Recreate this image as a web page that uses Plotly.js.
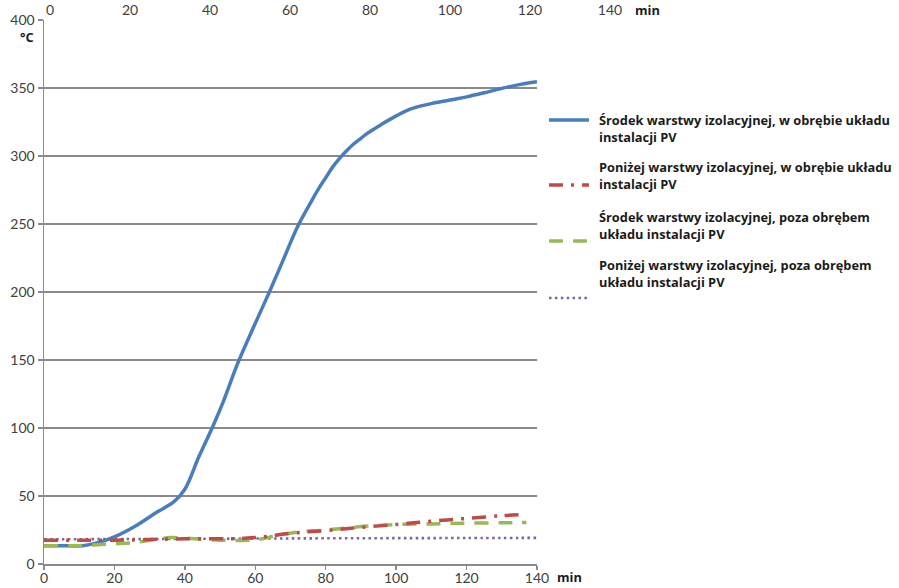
<!DOCTYPE html>
<html>
<head>
<meta charset="utf-8">
<script src="https://cdn.plot.ly/plotly-3.0.1.min.js"></script>
<style>
  html, body { margin: 0; padding: 0; background: #ffffff; }
  #chart { width: 899px; height: 588px; }
</style>
</head>
<body>
<div id="chart"></div>
<script>
// Temperature over time (min, °C) for four measuring points
const seriesNames = [
  'Środek warstwy izolacyjnej, w obrębie układu instalacji PV',
  'Poniżej warstwy izolacyjnej, w obrębie układu instalacji PV',
  'Środek warstwy izolacyjnej, poza obrębem układu instalacji PV',
  'Poniżej warstwy izolacyjnej, poza obrębem układu instalacji PV'
];
const legendLines = [
  ['Środek warstwy izolacyjnej, w obrębie układu', 'instalacji PV'],
  ['Poniżej warstwy izolacyjnej, w obrębie układu', 'instalacji PV'],
  ['Środek warstwy izolacyjnej, poza obrębem', 'układu instalacji PV'],
  ['Poniżej warstwy izolacyjnej, poza obrębem', 'układu instalacji PV']
];

const timeMidIn = [0, 5, 11, 15, 20, 26, 32, 37, 40, 44, 48, 51, 55, 60, 64, 68, 72, 76, 78, 80, 82, 84, 86, 88, 90, 92, 96, 100, 104, 110, 115, 120, 125, 130, 135, 140];
const tempMidIn = [13.5, 13.5, 13.5, 15.5, 20, 28, 38, 46, 55, 79, 101.5, 120, 147.5, 177, 200, 224, 248, 267, 276, 284, 292, 298.5, 304, 309, 313, 317, 323.5, 329.5, 334.5, 338.5, 341, 343.5, 346.5, 349.7, 352.5, 354.6];

const timeBelowIn = [0, 10, 20, 30, 40, 50, 56, 60, 64, 68, 74, 80, 90, 100, 110, 120, 130, 137];
const tempBelowIn = [17.5, 17.5, 17.5, 18, 18.5, 18.5, 18.8, 19.5, 20.5, 22, 23.5, 24.5, 27, 29, 31.5, 33.5, 35.5, 36.5];

const timeMidOut = [0, 10, 14, 20, 25, 30, 36, 40, 50, 58, 62, 66, 72, 80, 90, 100, 110, 120, 130, 137];
const tempMidOut = [13.5, 13.5, 14, 15, 15.5, 17.5, 19.5, 19, 17.5, 17.5, 18.5, 21, 23.5, 25, 27.5, 29, 29.5, 30, 30.3, 30.5];

const timeBelowOut = [0, 20, 40, 60, 80, 100, 120, 140];
const tempBelowOut = [18.2, 18.3, 18.5, 18.7, 18.9, 19, 19.1, 19.2];

const xTicks = [0, 20, 40, 60, 80, 100, 120, 140];
const yTicks = [0, 50, 100, 150, 200, 250, 300, 350, 400];

// styling
const colors = ['#4a7ebb', '#be4b48', '#98b954', '#8064a2'];
const dashes = ['solid', '14px,8px,3px,8px', '14px,10px', '2.5px,3.4px'];
const widths = [3.5, 3.5, 3.5, 2.6];

const W = 899, H = 588;
const M = { l: 44, r: 239, t: 20, b: 24 };
const PW = W - M.l - M.r, PH = H - M.t - M.b;
const px = x => (x - M.l) / PW;          // pixel x -> paper x
const py = y => 1 - (y - M.t) / PH;      // pixel y -> paper y

const xs = [timeMidIn, timeBelowIn, timeMidOut, timeBelowOut];
const ys = [tempMidIn, tempBelowIn, tempMidOut, tempBelowOut];

const traces = xs.map((x, i) => ({
  type: 'scatter', mode: 'lines', name: seriesNames[i],
  x: x, y: ys[i], xaxis: 'x', yaxis: 'y', showlegend: false,
  line: { color: colors[i], width: widths[i], dash: dashes[i], shape: 'spline', smoothing: 1 }
}));
// draw order: green and red on top of purple
const ordered = [traces[3], traces[0], traces[2], traces[1]];
// empty trace holding the top scale
ordered.push({ type: 'scatter', x: [], y: [], xaxis: 'x2', yaxis: 'y2', showlegend: false, hoverinfo: 'skip' });

const tickFont = { family: 'Lato, sans-serif', size: 14, color: '#404040' };
const labelFont = { family: '"Open Sans", sans-serif', size: 12.8, color: '#1b1b1b' };

const annotations = [
  { text: '<b>°C</b>', x: px(27), y: py(37) },
  { text: '<b>min</b>', x: px(569), y: py(577) },
  { text: '<b>min</b>', x: px(647), y: py(10) }
].map(a => Object.assign({ xref: 'paper', yref: 'paper', showarrow: false, xanchor: 'center', yanchor: 'middle', borderpad: 0, font: labelFont }, a));

// legend drawn by hand: two-line labels with a line sample beside each
const legendTextY = [128.3, 175.8, 225, 273.3];
const legendSymY = [120, 185, 241, 298];
const shapes = [];
legendLines.forEach((lines, i) => {
  annotations.push({
    xref: 'paper', yref: 'paper', showarrow: false, xanchor: 'left', yanchor: 'middle', align: 'left',
    borderpad: 0, x: px(598), y: py(legendTextY[i]),
    text: lines.map(t => '<b>' + t + '</b>').join('<br>'), font: labelFont
  });
  shapes.push({
    type: 'line', xref: 'paper', yref: 'paper',
    x0: px(549), x1: px(589), y0: py(legendSymY[i]), y1: py(legendSymY[i]),
    line: { color: colors[i], width: widths[i], dash: dashes[i] }
  });
});

const layout = {
  width: W, height: H,
  margin: M,
  paper_bgcolor: '#ffffff', plot_bgcolor: '#ffffff',
  showlegend: false,
  xaxis: {
    domain: [0, px(537)], range: [0, 140], anchor: 'y',
    tickvals: xTicks, ticktext: xTicks.map(String),
    ticks: 'outside', ticklen: 4, tickcolor: '#8a8a8a', tickwidth: 1.3,
    showline: true, linecolor: '#8a8a8a', linewidth: 1.5,
    showgrid: false, zeroline: false, tickfont: tickFont, ticklabelstandoff: -3, fixedrange: true
  },
  yaxis: {
    domain: [0, 1], range: [0, 400], anchor: 'x',
    tickvals: yTicks, ticktext: yTicks.map(String),
    ticks: 'outside', ticklen: 5, tickcolor: '#8a8a8a', tickwidth: 1.3,
    showline: true, linecolor: '#8a8a8a', linewidth: 1.5,
    showgrid: true, gridcolor: '#8a8a8a', gridwidth: 1.3,
    zeroline: false, tickfont: tickFont, fixedrange: true
  },
  xaxis2: {
    domain: [0, 1], range: [(M.l - 50) / 4, (W - M.r - 50) / 4], anchor: 'y2', side: 'top',
    tickvals: xTicks, ticktext: xTicks.map(String),
    ticks: '', showline: false, showgrid: false, zeroline: false,
    tickfont: tickFont, ticklabelstandoff: 1, fixedrange: true
  },
  yaxis2: {
    domain: [0.995, 1], range: [0, 1], anchor: 'x2', visible: false, fixedrange: true
  },
  annotations: annotations,
  shapes: shapes
};

Plotly.newPlot('chart', ordered, layout, { displayModeBar: false, staticPlot: true });
</script>
</body>
</html>
